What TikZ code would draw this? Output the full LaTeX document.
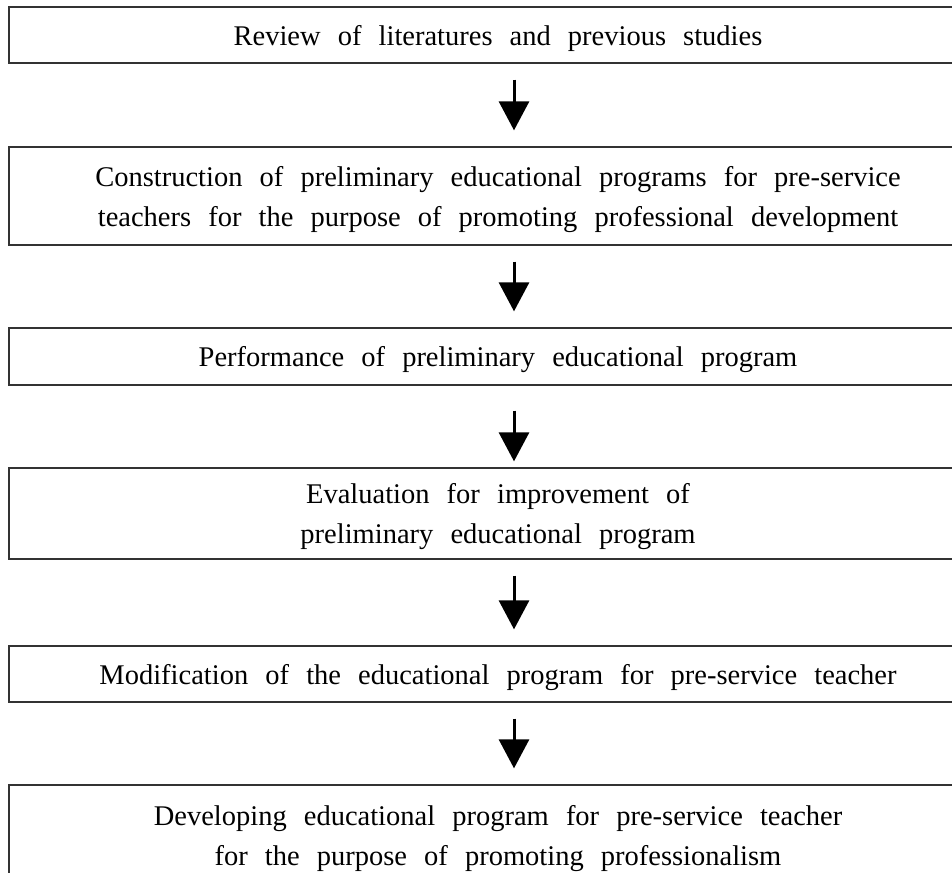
\documentclass[tikz,border=0pt]{standalone}
\usepackage{fontspec}
\setmainfont{Liberation Serif}
\usetikzlibrary{positioning, arrows.meta}

\begin{document}
\begin{tikzpicture}[
    % --- Global Settings ---
    % one unit is one pixel of the reference, y grows downwards
    x=1pt, y=-1pt,
    every node/.style={font=\fontsize{28.5}{40}\selectfont},
    % wider gaps between the words
    execute at begin node={\spaceskip=0.6em\relax}
  ]

  % --- Style Definitions ---
  \tikzset{
    % wide boxes, cut off at the right border of the picture
    stage/.style={
      draw=black!80,
      line width=1.3pt,
      minimum width=978pt,
      align=center,
      text depth=0pt,
      inner sep=0pt
    },
    % thick arrows with a big triangular head
    arrow/.style={
      -{Triangle[length=29pt, width=30pt]},
      line width=3pt,
      shorten <=16pt,
      shorten >=16pt
    }
  }

  % picture frame
  \clip (0,0) rectangle (952,872);

  % --- Node Placement ---
  \node[stage, minimum height=56pt] (review) at (498, 35)
    {Review of literatures and previous studies};

  \node[stage, minimum height=98pt] (construct) at (498, 196)
    {Construction of preliminary educational programs for pre-service\\
     teachers for the purpose of promoting professional development};

  \node[stage, minimum height=57pt] (perform) at (498, 356.5)
    {Performance of preliminary educational program};

  \node[stage, minimum height=91pt] (evaluate) at (498, 513.5)
    {Evaluation for improvement of\\
     preliminary educational program};

  \node[stage, minimum height=56pt] (modify) at (498, 674)
    {Modification of the educational program for pre-service teacher};

  \node[stage, minimum height=100pt] (develop) at (498, 835)
    {Developing educational program for pre-service teacher\\
     for the purpose of promoting professionalism};

  % --- Path and Arrow Drawing ---
  \draw[arrow] ([xshift=16pt]review.south) -- ([xshift=16pt]construct.north);
  \draw[arrow] ([xshift=16pt]construct.south) -- ([xshift=16pt]perform.north);
  \draw[arrow, shorten <=25pt, shorten >=6pt]
    ([xshift=16pt]perform.south) -- ([xshift=16pt]evaluate.north);
  \draw[arrow] ([xshift=16pt]evaluate.south) -- ([xshift=16pt]modify.north);
  \draw[arrow] ([xshift=16pt]modify.south) -- ([xshift=16pt]develop.north);

\end{tikzpicture}
\end{document}
